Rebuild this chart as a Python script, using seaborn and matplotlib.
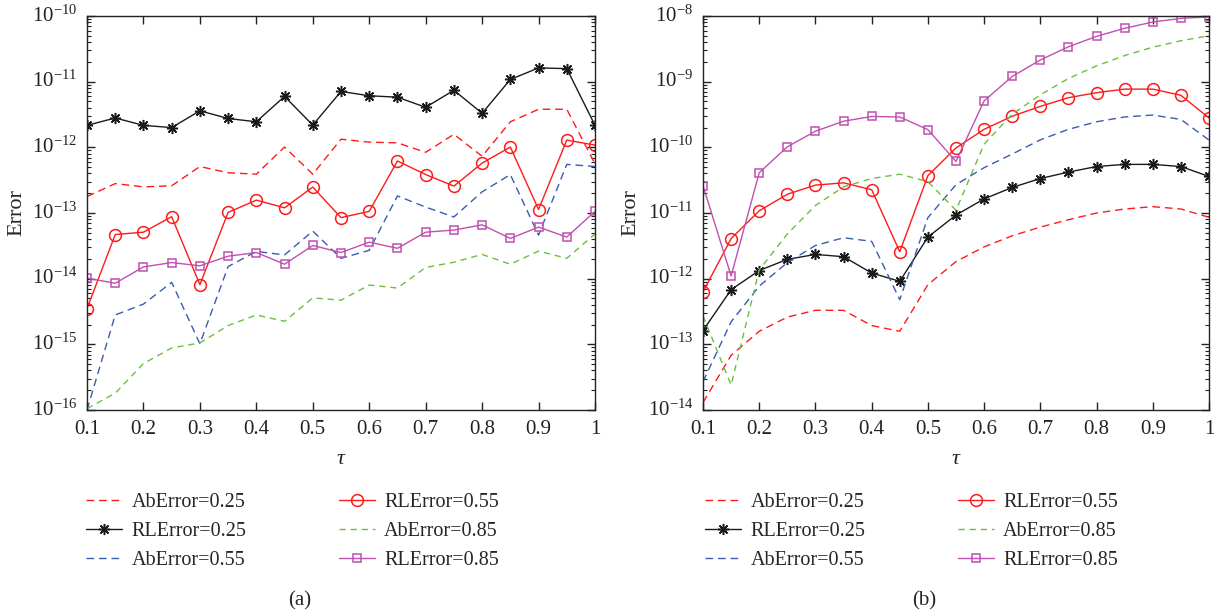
import numpy as np
import pandas as pd
import matplotlib
matplotlib.use("Agg")
import matplotlib.pyplot as plt
import seaborn as sns
from matplotlib.ticker import LogLocator, NullFormatter, FixedLocator

tau = [0.1, 0.15, 0.2, 0.25, 0.3, 0.35, 0.4, 0.45, 0.5, 0.55,
       0.6, 0.65, 0.7, 0.75, 0.8, 0.85, 0.9, 0.95, 1.0]

labels = ["AbError=0.25", "RLError=0.25", "AbError=0.55",
          "RLError=0.55", "AbError=0.85", "RLError=0.85"]

# Panel (a)
a_ab025 = [1.78e-13, 2.8e-13, 2.5e-13, 2.6e-13, 5.1e-13, 4.1e-13, 3.9e-13, 1.01e-12, 3.9e-13, 1.33e-12,
           1.2e-12, 1.17e-12, 8.4e-13, 1.58e-12, 7.3e-13, 2.45e-12, 3.8e-12, 3.8e-12, 5.6e-13]
a_rl025 = [2.16e-12, 2.8e-12, 2.16e-12, 2.0e-12, 3.6e-12, 2.75e-12, 2.45e-12, 5.96e-12, 2.18e-12, 7.1e-12,
           6.1e-12, 5.8e-12, 4.07e-12, 7.4e-12, 3.3e-12, 1.08e-11, 1.62e-11, 1.58e-11, 2.16e-12]
a_ab055 = [1.0e-16, 2.8e-15, 4.1e-15, 8.8e-15, 1.02e-15, 1.53e-14, 2.6e-14, 2.3e-14, 5.3e-14, 2.04e-14,
           2.7e-14, 1.82e-13, 1.23e-13, 8.7e-14, 2.1e-13, 3.85e-13, 4.6e-14, 5.5e-13, 5.1e-13]
a_rl055 = [3.5e-15, 4.7e-14, 5.1e-14, 8.8e-14, 8.1e-15, 1.02e-13, 1.57e-13, 1.2e-13, 2.48e-13, 8.5e-14,
           1.06e-13, 6.2e-13, 3.85e-13, 2.57e-13, 5.75e-13, 1.01e-12, 1.13e-13, 1.29e-12, 1.08e-12]
a_ab085 = [1.05e-16, 1.8e-16, 5.1e-16, 8.8e-16, 1.05e-15, 1.93e-15, 2.8e-15, 2.24e-15, 5.1e-15, 4.7e-15,
           8.0e-15, 7.2e-15, 1.48e-14, 1.78e-14, 2.34e-14, 1.66e-14, 2.63e-14, 2.04e-14, 4.8e-14]
a_rl085 = [1.02e-14, 8.5e-15, 1.51e-14, 1.76e-14, 1.57e-14, 2.2e-14, 2.5e-14, 1.66e-14, 3.2e-14, 2.5e-14,
           3.6e-14, 2.9e-14, 5.1e-14, 5.5e-14, 6.6e-14, 4.1e-14, 6.1e-14, 4.3e-14, 1.06e-13]

# Panel (b)
b_ab025 = [1.3e-14, 6.8e-14, 1.58e-13, 2.6e-13, 3.3e-13, 3.3e-13, 1.93e-13, 1.58e-13, 8.1e-13, 1.82e-12,
           3.05e-12, 4.5e-12, 6.1e-12, 7.9e-12, 1.0e-11, 1.15e-11, 1.25e-11, 1.15e-11, 8.6e-12]
b_rl025 = [1.62e-13, 6.8e-13, 1.33e-12, 1.97e-12, 2.34e-12, 2.16e-12, 1.22e-12, 9.1e-13, 4.3e-12, 9.3e-12,
           1.64e-11, 2.45e-11, 3.35e-11, 4.2e-11, 5.1e-11, 5.5e-11, 5.5e-11, 5.1e-11, 3.6e-11]
b_ab055 = [2.7e-14, 2.2e-13, 7.7e-13, 1.76e-12, 3.2e-12, 4.2e-12, 3.7e-12, 4.8e-13, 8.5e-12, 2.7e-11,
           4.9e-11, 7.9e-11, 1.3e-10, 1.88e-10, 2.45e-10, 2.9e-10, 3.1e-10, 2.66e-10, 1.29e-10]
b_rl055 = [6.3e-13, 4.07e-12, 1.08e-11, 1.93e-11, 2.66e-11, 2.88e-11, 2.26e-11, 2.57e-12, 3.7e-11, 9.8e-11,
           1.88e-10, 2.98e-10, 4.2e-10, 5.7e-10, 6.8e-10, 7.7e-10, 7.7e-10, 6.2e-10, 2.8e-10]
b_ab085 = [2.7e-13, 2.4e-14, 1.36e-12, 4.8e-12, 1.3e-11, 2.5e-11, 3.35e-11, 3.9e-11, 3.0e-11, 1.1e-11,
           1.12e-10, 3.2e-10, 6.3e-10, 1.12e-9, 1.74e-9, 2.5e-9, 3.35e-9, 4.2e-9, 5.0e-9]
b_rl085 = [2.6e-11, 1.1e-12, 4.1e-11, 1.02e-10, 1.76e-10, 2.5e-10, 2.95e-10, 2.9e-10, 1.86e-10, 6.1e-11,
           5.1e-10, 1.2e-9, 2.14e-9, 3.4e-9, 4.9e-9, 6.5e-9, 8.1e-9, 9.2e-9, 9.7e-9]

x_ticks = [0.1, 0.2, 0.3, 0.4, 0.5, 0.6, 0.7, 0.8, 0.9, 1.0]
x_ticklabels = ["0.1", "0.2", "0.3", "0.4", "0.5", "0.6", "0.7", "0.8", "0.9", "1"]

sns.set_theme(style="ticks")
plt.rcParams["font.family"] = ["Liberation Serif", "DejaVu Serif"]
plt.rcParams["mathtext.fontset"] = "custom"
plt.rcParams["mathtext.rm"] = "Liberation Serif"
plt.rcParams["mathtext.it"] = "Liberation Serif:italic"

RED = "#ff1a1a"
BLACK = "#1a1a1a"
BLUE = "#3a5cb0"
GREEN = "#6cbf3e"
MAG = "#c050b0"

styles = [
    dict(color=RED, linestyle=(0, (5.5, 3.5)), marker=None),
    dict(color=BLACK, linestyle="-", marker=(8, 2, 0), markersize=8, markeredgewidth=1.1,
         markeredgecolor=BLACK),
    dict(color=BLUE, linestyle=(0, (5.5, 3.5)), marker=None),
    dict(color=RED, linestyle="-", marker="o", markersize=8.5, markerfacecolor="none",
         markeredgewidth=1.1, markeredgecolor=RED),
    dict(color=GREEN, linestyle=(0, (4.5, 3.5)), marker=None),
    dict(color=MAG, linestyle="-", marker="s", markersize=6, markerfacecolor="none",
         markeredgewidth=1.1, markeredgecolor=MAG),
]

W, H = 1216, 616
fig = plt.figure(figsize=(W / 100, H / 100), dpi=100)
ax_a = fig.add_axes([87 / W, 206 / H, 508 / W, 394 / H])
ax_b = fig.add_axes([703 / W, 206 / H, 506 / W, 394 / H])

panels = [
    (ax_a, [a_ab025, a_rl025, a_ab055, a_rl055, a_ab085, a_rl085], (1e-16, 1e-10), 86 / W, "(a)", 300 / W, -0.12),
    (ax_b, [b_ab025, b_rl025, b_ab055, b_rl055, b_ab085, b_rl085], (1e-14, 1e-8), 705 / W, "(b)", 924 / W, -0.123),
]

for ax, series, ylim, legx, cap, capx, ylx in panels:
    ax.set_yscale("log")
    for vals, lab, st in zip(series, labels, styles):
        df = pd.DataFrame({"tau": tau, "err": vals})
        sns.lineplot(data=df, x="tau", y="err", ax=ax, label=lab, linewidth=1.0, **st)
    ax.set_xlim(0.1, 1.0)
    ax.set_ylim(*ylim)
    ax.xaxis.set_major_locator(FixedLocator(x_ticks))
    ax.set_xticklabels(x_ticklabels)
    ax.yaxis.set_major_locator(LogLocator(base=10, numticks=20))
    ax.yaxis.set_minor_locator(LogLocator(base=10, subs=np.arange(2, 10), numticks=20))
    ax.yaxis.set_minor_formatter(NullFormatter())
    ax.tick_params(axis="both", which="both", direction="in", top=True, right=True,
                   labelsize=15, colors="#222222")
    ax.tick_params(axis="both", which="major", length=6, width=1.0, pad=7)
    ax.tick_params(axis="y", which="minor", length=3, width=0.8)
    for sp in ax.spines.values():
        sp.set_linewidth(1.0)
        sp.set_color("#222222")
    ax.set_xlabel(r"$\tau$", fontsize=16, labelpad=8)
    ax.set_ylabel("Error", fontsize=16)
    ax.yaxis.set_label_coords(ylx, 0.5)
    ax.grid(False)
    ax.legend(loc="upper left", bbox_to_anchor=(legx, 0.200), bbox_transform=fig.transFigure,
              ncol=2, frameon=False, fontsize=14.5, borderpad=0, borderaxespad=0,
              handlelength=1.8, handletextpad=0.45, columnspacing=4.6, labelspacing=0.5)
    fig.text(capx, 0.024, cap, ha="center", va="center", fontsize=15)

fig.canvas.draw()
for ax in (ax_a, ax_b):
    for t in ax.yaxis.get_major_ticks():
        t.label1.set_verticalalignment("center")

fig.savefig("out.png", dpi=100)
